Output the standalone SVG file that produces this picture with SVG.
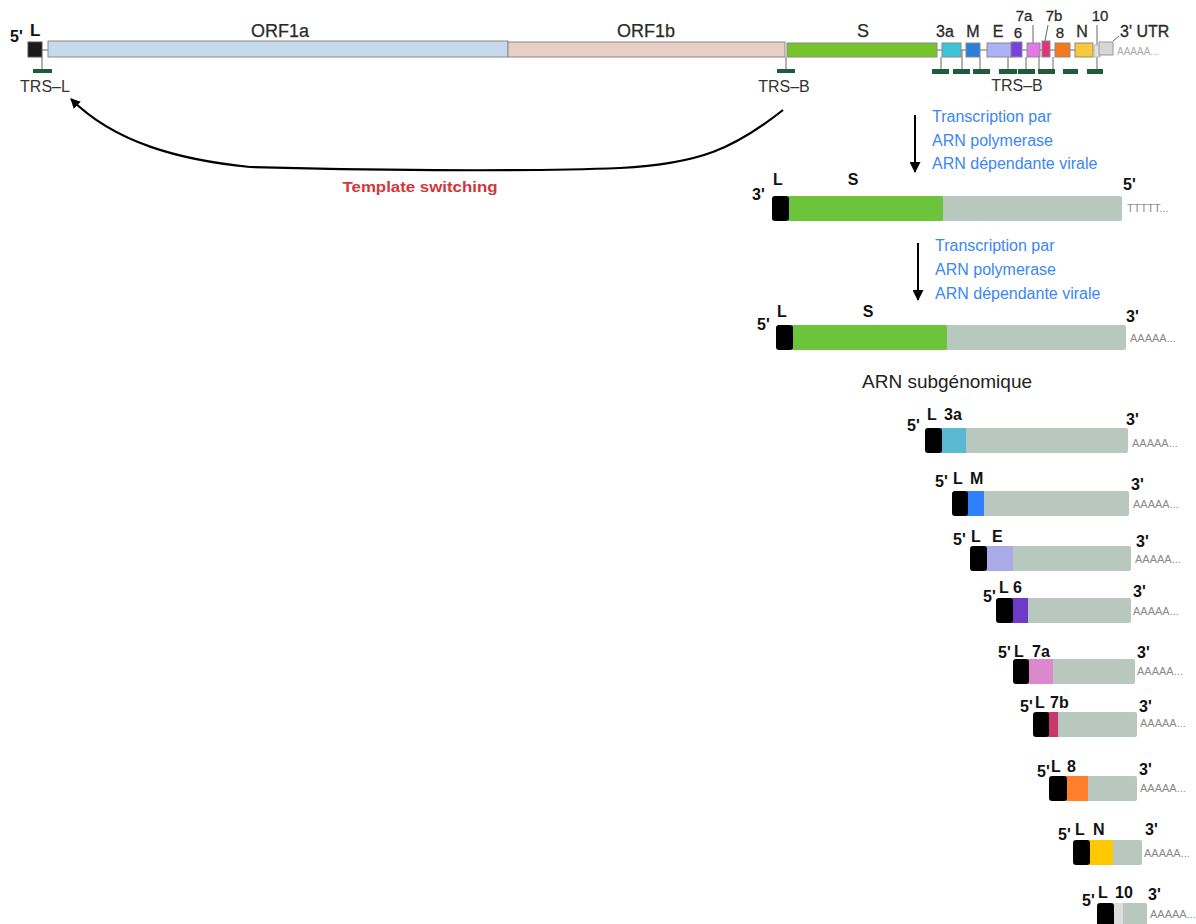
<svg xmlns="http://www.w3.org/2000/svg" width="1196" height="924" viewBox="0 0 1196 924">
<style>
text{font-family:"Liberation Sans",Arial,sans-serif}
.lbl{font-size:18px;fill:#2a2a2a;stroke:#2a2a2a;stroke-width:0.25}
.gl{font-size:16px;fill:#2a2a2a;stroke:#2a2a2a;stroke-width:0.3}
.trs{font-size:16px;fill:#333}
.b{font-size:16px;font-weight:bold;fill:#111}
.pa{font-size:11px;fill:#8a8a8a}
.blue{font-size:16px;fill:#3b86f7}
.bx{stroke:#8a8a8a;stroke-width:1}
.tb{fill:#1e5c3c}
.stem{stroke:#666;stroke-width:1;fill:none}
.blk{fill:#000}
.gry{fill:#b8c8be}
.grn{fill:#6cc43a}
</style>
<defs>
<marker id="ah" viewBox="0 0 10 10" refX="9" refY="5" markerWidth="10" markerHeight="10" markerUnits="userSpaceOnUse" orient="auto">
<path d="M0,0 L10,5 L0,10 z" fill="#000"/>
</marker>
<marker id="ah2" viewBox="0 0 10 10" refX="9" refY="5" markerWidth="12" markerHeight="11" markerUnits="userSpaceOnUse" orient="auto">
<path d="M0,0 L10,5 L0,10 z" fill="#000"/>
</marker>
</defs>

<g id="genome">
<line class="stem" x1="937" y1="50" x2="1100" y2="50"/>
<line class="stem" x1="42" y1="50" x2="48" y2="50"/>
<line class="stem" x1="42" y1="57" x2="42" y2="69"/>
<line class="stem" x1="786" y1="57" x2="786" y2="69"/>
<rect class="tb" x="33" y="69" width="19" height="4"/>
<rect class="tb" x="777" y="69" width="18" height="4"/>
<text class="b" x="10" y="42">5'</text>
<text class="b" x="30" y="36" style="font-size:17px">L</text>
<rect x="28" y="42" width="14" height="15" fill="#1a1a1a" stroke="#555"/>
<rect class="bx" x="48" y="41" width="460" height="16" fill="#c5d9ea"/>
<rect class="bx" x="508" y="42" width="277" height="15" fill="#e8cfc3"/>
<rect class="bx" x="787" y="43" width="150" height="14" fill="#76c42a"/>
<text class="lbl" x="280" y="37" text-anchor="middle">ORF1a</text>
<text class="lbl" x="646" y="37" text-anchor="middle">ORF1b</text>
<text class="lbl" x="863" y="37" text-anchor="middle">S</text>
<text class="trs" x="45" y="92" text-anchor="middle">TRS–L</text>
<text class="trs" x="784" y="92" text-anchor="middle">TRS–B</text>
<g class="stem">
<line x1="941" y1="57" x2="941" y2="69"/>
<line x1="962" y1="50" x2="962" y2="69"/>
<line x1="980" y1="57" x2="980" y2="69"/>
<line x1="1008" y1="57" x2="1008" y2="69"/>
<line x1="1026" y1="57" x2="1026" y2="69"/>
<line x1="1039" y1="57" x2="1039" y2="69"/>
<line x1="1053" y1="57" x2="1053" y2="69"/>
<line x1="1097" y1="50" x2="1097" y2="69"/>
<line x1="1033" y1="25" x2="1033" y2="43"/>
<line x1="1048" y1="25" x2="1045" y2="41"/>
<line x1="1097" y1="25" x2="1097" y2="45"/>
<line x1="1113" y1="41" x2="1119" y2="36"/>
</g>
<rect class="tb" x="932" y="69" width="17" height="5"/>
<rect class="tb" x="953" y="69" width="17" height="5"/>
<rect class="tb" x="973" y="69" width="17" height="5"/>
<rect class="tb" x="999" y="69" width="18" height="5"/>
<rect class="tb" x="1018" y="69" width="17" height="5"/>
<rect class="tb" x="1038" y="69" width="17" height="5"/>
<rect class="tb" x="1063" y="69" width="15" height="5"/>
<rect class="tb" x="1087" y="69" width="16" height="5"/>
<rect class="bx" x="942" y="43" width="19" height="14" fill="#3fc3d6"/>
<rect class="bx" x="966" y="43" width="14" height="14" fill="#2a7fd8"/>
<rect class="bx" x="987" y="43" width="25" height="14" fill="#a9b3f5"/>
<rect class="bx" x="1011" y="42" width="11" height="15" fill="#7a3fe0"/>
<rect class="bx" x="1027" y="43" width="13" height="14" fill="#e07ae6"/>
<rect class="bx" x="1042" y="41" width="8" height="16" fill="#e0347a"/>
<rect class="bx" x="1055" y="43" width="15" height="14" fill="#f57a1e"/>
<rect class="bx" x="1075" y="43" width="18" height="14" fill="#f8c93a"/>
<rect x="1094" y="45" width="6" height="12" fill="#e2e2e2" stroke="#bbb"/>
<rect x="1099" y="42" width="14" height="13" fill="#d6d6d6" stroke="#999"/>
<text class="gl" x="945" y="37" text-anchor="middle">3a</text>
<text class="gl" x="973" y="37" text-anchor="middle">M</text>
<text class="gl" x="998" y="37" text-anchor="middle">E</text>
<text class="gl" x="1018" y="38" text-anchor="middle" style="font-size:15px">6</text>
<text class="gl" x="1024" y="21" text-anchor="middle" style="font-size:15px">7a</text>
<text class="gl" x="1054" y="21" text-anchor="middle" style="font-size:15px">7b</text>
<text class="gl" x="1060" y="38" text-anchor="middle" style="font-size:15px">8</text>
<text class="gl" x="1082" y="37" text-anchor="middle">N</text>
<text class="gl" x="1100" y="21" text-anchor="middle" style="font-size:15px">10</text>
<text class="gl" x="1120" y="37">3' UTR</text>
<text class="pa" x="1117" y="55" style="font-size:10px;fill:#aaa">AAAAA...</text>
<text class="trs" x="1017" y="91" text-anchor="middle">TRS–B</text>
</g>

<g id="connectors">
<path d="M783,110 C735,148 700,164 620,168 C520,172 350,170 250,167 C180,160 115,143 71,99" fill="none" stroke="#000" stroke-width="2.2" marker-end="url(#ah)"/>
<line x1="915" y1="115" x2="915" y2="172" stroke="#000" stroke-width="2" marker-end="url(#ah2)"/>
<line x1="918" y1="243" x2="918" y2="300" stroke="#000" stroke-width="2" marker-end="url(#ah2)"/>
</g>

<g id="template-label">
<text x="420" y="192" text-anchor="middle" style="font-size:15px;font-weight:bold;fill:#d2373c" textLength="155" lengthAdjust="spacingAndGlyphs">Template switching</text>
</g>

<g id="transcription-1">
<text class="blue" x="932" y="122">Transcription par</text>
<text class="blue" x="932" y="146">ARN polymerase</text>
<text class="blue" x="932" y="169">ARN dépendante virale</text>
</g>

<g id="strand-negative">
<rect class="gry" x="930" y="196" width="192" height="25" rx="2"/>
<rect class="grn" x="787" y="196" width="156" height="25" rx="2"/>
<rect class="blk" x="772" y="196" width="17" height="25" rx="3"/>
<text class="b" x="752" y="200">3'</text>
<text class="b" x="773" y="185">L</text>
<text class="b" x="853" y="185" text-anchor="middle">S</text>
<text class="b" x="1123" y="190">5'</text>
<text class="pa" x="1127" y="212">TTTTT...</text>
</g>

<g id="transcription-2">
<text class="blue" x="935" y="251">Transcription par</text>
<text class="blue" x="935" y="275">ARN polymerase</text>
<text class="blue" x="935" y="299">ARN dépendante virale</text>
</g>

<g id="strand-positive">
<rect class="gry" x="934" y="325" width="192" height="25" rx="2"/>
<rect class="grn" x="791" y="325" width="156" height="25" rx="2"/>
<rect class="blk" x="776" y="325" width="17" height="25" rx="3"/>
<text class="b" x="757" y="330">5'</text>
<text class="b" x="777" y="317">L</text>
<text class="b" x="868" y="317" text-anchor="middle">S</text>
<text class="b" x="1126" y="322">3'</text>
<text class="pa" x="1130" y="342">AAAAA...</text>
</g>

<text x="862" y="388" style="font-size:19px;fill:#222">ARN subgénomique</text>

<g id="sg-3a">
<rect class="gry" x="960" y="428" width="168" height="25" rx="2"/>
<rect x="940" y="428" width="26" height="25" fill="#5bb8d1"/>
<rect class="blk" x="925" y="428" width="17" height="25" rx="3"/>
<text class="b" x="907" y="431">5'</text>
<text class="b" x="927" y="420">L</text>
<text class="b" x="944" y="420">3a</text>
<text class="b" x="1126" y="425">3'</text>
<text class="pa" x="1132" y="447">AAAAA...</text>
</g>
<g id="sg-M">
<rect class="gry" x="980" y="491" width="149" height="25" rx="2"/>
<rect x="966" y="491" width="18" height="25" fill="#2f80ff"/>
<rect class="blk" x="952" y="491" width="16" height="25" rx="3"/>
<text class="b" x="935" y="487">5'</text>
<text class="b" x="953" y="484">L</text>
<text class="b" x="970" y="484">M</text>
<text class="b" x="1131" y="490">3'</text>
<text class="pa" x="1133" y="508">AAAAA...</text>
</g>
<g id="sg-E">
<rect class="gry" x="1008" y="546" width="123" height="25" rx="2"/>
<rect x="985" y="546" width="28" height="25" fill="#aaaae8"/>
<rect class="blk" x="970" y="546" width="17" height="25" rx="3"/>
<text class="b" x="953" y="545">5'</text>
<text class="b" x="971" y="542">L</text>
<text class="b" x="992" y="542">E</text>
<text class="b" x="1136" y="547">3'</text>
<text class="pa" x="1135" y="563">AAAAA...</text>
</g>
<g id="sg-6">
<rect class="gry" x="1024" y="598" width="107" height="25" rx="2"/>
<rect x="1011" y="598" width="17" height="25" fill="#6f3ac8"/>
<rect class="blk" x="996" y="598" width="17" height="25" rx="3"/>
<text class="b" x="983" y="602">5'</text>
<text class="b" x="999" y="593">L</text>
<text class="b" x="1013" y="593">6</text>
<text class="b" x="1133" y="597">3'</text>
<text class="pa" x="1133" y="615">AAAAA...</text>
</g>
<g id="sg-7a">
<rect class="gry" x="1048" y="659" width="87" height="25" rx="2"/>
<rect x="1027" y="659" width="26" height="25" fill="#dd88cc"/>
<rect class="blk" x="1013" y="659" width="16" height="25" rx="3"/>
<text class="b" x="998" y="658">5'</text>
<text class="b" x="1014" y="657">L</text>
<text class="b" x="1032" y="657">7a</text>
<text class="b" x="1137" y="658">3'</text>
<text class="pa" x="1137" y="675">AAAAA...</text>
</g>
<g id="sg-7b">
<rect class="gry" x="1054" y="712" width="83" height="25" rx="2"/>
<rect x="1047" y="712" width="11" height="25" fill="#c8386f"/>
<rect class="blk" x="1033" y="712" width="16" height="25" rx="3"/>
<text class="b" x="1020" y="712">5'</text>
<text class="b" x="1035" y="708">L</text>
<text class="b" x="1050" y="708">7b</text>
<text class="b" x="1139" y="712">3'</text>
<text class="pa" x="1140" y="727">AAAAA...</text>
</g>
<g id="sg-8">
<rect class="gry" x="1083" y="776" width="54" height="25" rx="2"/>
<rect x="1065" y="776" width="23" height="25" fill="#ff7f2a"/>
<rect class="blk" x="1049" y="776" width="18" height="25" rx="3"/>
<text class="b" x="1037" y="777">5'</text>
<text class="b" x="1051" y="772">L</text>
<text class="b" x="1067" y="772">8</text>
<text class="b" x="1139" y="775">3'</text>
<text class="pa" x="1140" y="792">AAAAA...</text>
</g>
<g id="sg-N">
<rect class="gry" x="1108" y="840" width="34" height="25" rx="2"/>
<rect x="1088" y="840" width="25" height="25" fill="#ffc800"/>
<rect class="blk" x="1073" y="840" width="17" height="25" rx="3"/>
<text class="b" x="1058" y="840">5'</text>
<text class="b" x="1075" y="835">L</text>
<text class="b" x="1093" y="835">N</text>
<text class="b" x="1145" y="835">3'</text>
<text class="pa" x="1144" y="857">AAAAA...</text>
</g>
<g id="sg-10">
<rect class="gry" x="1119" y="903" width="28" height="25" rx="2"/>
<rect x="1112" y="903" width="11" height="25" fill="#dddddd"/>
<rect class="blk" x="1097" y="903" width="17" height="25" rx="3"/>
<text class="b" x="1082" y="906">5'</text>
<text class="b" x="1098" y="898">L</text>
<text class="b" x="1115" y="898">10</text>
<text class="b" x="1148" y="900">3'</text>
<text class="pa" x="1150" y="918">AAAAA...</text>
</g>
</svg>
